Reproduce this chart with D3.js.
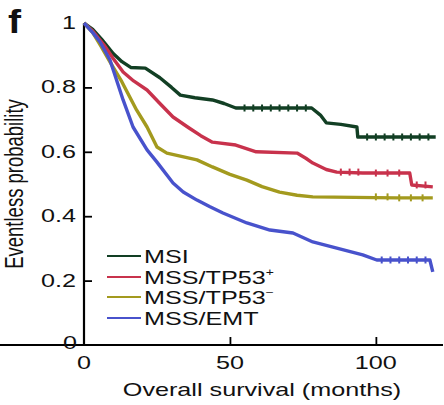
<!DOCTYPE html>
<html><head><meta charset="utf-8">
<script src="https://cdn.jsdelivr.net/npm/d3@7/dist/d3.min.js"></script>
<style>body{margin:0;background:#fff}svg{display:block}text{font-family:"Liberation Sans",Arial,sans-serif;fill:#111}</style>
</head><body><svg id="c" width="444" height="405"></svg>
<script>
const seriesNames = ["MSI", "MSS/TP53", "MSS/TP53", "MSS/EMT"];
const seriesSup = ["", "+", "\u2212", ""];
const seriesColors = ["#123f24", "#c8324c", "#a39a1e", "#4852cc"];
const msiT = [0,3,6,10,13,16,21,26,30,33,38,44,48,52,78,81,83,88,93.5,93.8,120.5];
const msiP = [1,0.98,0.95,0.905,0.88,0.862,0.86,0.83,0.80,0.776,0.768,0.761,0.75,0.736,0.736,0.714,0.69,0.685,0.677,0.646,0.646];
const tp53posT = [0,3,7,10,13.4,17,21.6,26,30.5,36,40,44,52,59,73,76,78.4,83,86.6,95.5,111.6,112.3,119.5];
const tp53posP = [1,0.975,0.93,0.89,0.848,0.82,0.792,0.75,0.708,0.674,0.65,0.63,0.621,0.6,0.596,0.58,0.565,0.545,0.537,0.534,0.534,0.497,0.491];
const tp53negT = [0,3,6,8.9,13,18,21.6,25,28.4,38.7,44,50,55.8,61,67,73,78.4,107,119.5];
const tp53negP = [1,0.97,0.925,0.879,0.817,0.73,0.677,0.615,0.596,0.575,0.553,0.53,0.512,0.492,0.475,0.465,0.46,0.457,0.457];
const emtT = [0,3,5.5,8.9,13.4,16.8,21.6,25,30.5,34,38.7,43,47.6,55.8,63.7,71.6,78.4,85.3,95.5,100.3,118.5,119.5];
const emtP = [1,0.97,0.941,0.885,0.761,0.677,0.606,0.568,0.503,0.475,0.45,0.43,0.41,0.379,0.357,0.348,0.32,0.304,0.28,0.264,0.264,0.227];
const censorMonths = [
  [55,58,61,64,67,70,73,76,97,100,103,106,109,112,115,118],
  [88,91,94,100,104,108,114,117],
  [100,104,108,112,116],
  [102,105,108,111,114,117]
];
const xTicks = [0, 50, 100];
const yTicks = [0.2, 0.4, 0.6, 0.8, 1];
const yTickLabels = ["0.2", "0.4", "0.6", "0.8", "1"];

const svg = d3.select("#c");
const x = d3.scaleLinear().domain([0, 123]).range([84, 443]);
const y = d3.scaleLinear().domain([0, 1]).range([345, 23]);
const SX = 1.4;

const series = [[msiT, msiP], [tp53posT, tp53posP], [tp53negT, tp53negP], [emtT, emtP]];

// axes (inward ticks)
const xa = svg.append("g").attr("transform", "translate(0,345)")
  .call(d3.axisBottom(x).tickValues(xTicks.filter(d => d > 0)).tickSize(-8).tickFormat(""));
const ya = svg.append("g").attr("transform", "translate(84,0)")
  .call(d3.axisLeft(y).tickValues(yTicks.filter(d => d < 1)).tickSize(-8).tickFormat(""));
[xa, ya].forEach(g => {
  g.select(".domain").attr("stroke", "#000").attr("stroke-width", 2.2);
  g.selectAll(".tick line").attr("stroke", "#000").attr("stroke-width", 1.8);
});
ya.select(".domain").attr("d", `M0,${y(1)}V345`);
xa.select(".domain").attr("d", `M0,0H443`);

// tick labels
function stretched(txt, tx, ty, anchor, size) {
  return svg.append("text").attr("transform", `translate(${tx},${ty}) scale(${SX},1)`)
    .attr("text-anchor", anchor).attr("font-size", size).text(txt);
}
yTicks.forEach((v, i) => stretched(yTickLabels[i], 76, y(v) + 6, "end", 18));
stretched("0", 77, 349, "end", 18);
xTicks.forEach(v => stretched(String(v), x(v), 369, "middle", 18));
stretched("Overall survival (months)", 262, 396, "middle", 18);
svg.append("text").attr("transform", `translate(23,184) scale(${SX},1) rotate(-90)`)
  .attr("text-anchor", "middle").attr("font-size", 18.5).text("Eventless probability");
svg.append("text").attr("transform", `translate(8,33) scale(1.15,1)`)
  .attr("font-size", 34).attr("font-weight", "bold").attr("fill", "#000").text("f");

// curves
const line = d3.line().x(d => x(d[0])).y(d => y(d[1])).curve(d3.curveLinear);
function valAt(T, P, m) { let v = P[0]; for (let i = 0; i < T.length; i++) if (T[i] <= m) v = P[i]; return v; }
series.forEach(([T, P], i) => {
  const pts = T.map((t, k) => [t, P[k]]);
  svg.append("path").datum(pts).attr("d", line).attr("fill", "none")
    .attr("stroke", seriesColors[i]).attr("stroke-width", 3.4).attr("stroke-linejoin", "round");
  svg.append("g").selectAll("line").data(censorMonths[i]).join("line")
    .attr("x1", d => x(d)).attr("x2", d => x(d))
    .attr("y1", d => y(valAt(T, P, d)) - 3.5).attr("y2", d => y(valAt(T, P, d)) + 3.5)
    .attr("stroke", seriesColors[i]).attr("stroke-width", 2);
});

// legend
const legY = [256, 277, 297, 318];
seriesNames.forEach((n, i) => {
  svg.append("line").attr("x1", 107).attr("x2", 141).attr("y1", legY[i]).attr("y2", legY[i])
    .attr("stroke", seriesColors[i]).attr("stroke-width", 2);
  const t = svg.append("text").attr("transform", `translate(144,${legY[i] + 7}) scale(${SX},1)`)
    .attr("font-size", 18).text(n);
  if (seriesSup[i]) t.append("tspan").attr("font-size", 10).attr("dy", -8).text(seriesSup[i]);
});
</script></body></html>
